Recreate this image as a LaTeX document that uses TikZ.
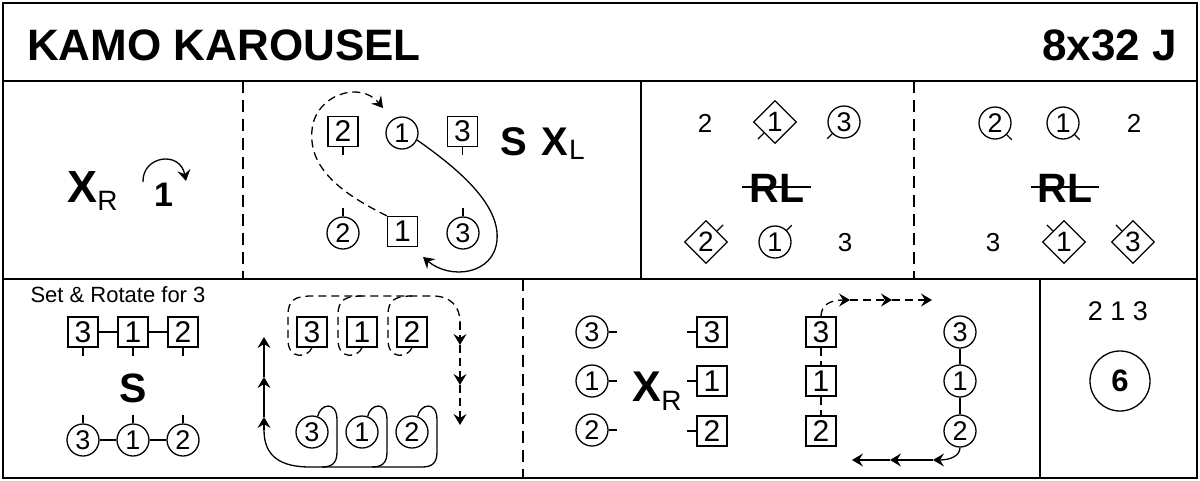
\documentclass[tikz,border=0pt]{standalone}
\usepackage{fontspec}
\setmainfont{Liberation Sans}
\usetikzlibrary{arrows.meta,shapes.geometric,calc}
\newcommand{\fsz}[1]{\fontsize{#1}{#1}\selectfont}
\begin{document}
\begin{tikzpicture}[x=1pt,y=-1pt,
  every node/.style={inner sep=0pt},
  frameline/.style={line width=2pt},
  solidsep/.style={line width=1.6pt},
  dashsep/.style={line width=1.6pt, dash pattern=on 12pt off 7pt},
  sqbox/.style={draw, line width=1.3pt, minimum size=30pt, font=\fsz{30}},
  cirnode/.style={draw, circle, line width=1.3pt, minimum size=32pt, font=\fsz{27}},
  dianode/.style={draw, diamond, aspect=1, line width=1.3pt, minimum width=43pt, minimum height=43pt, font=\fsz{28}},
  plainnum/.style={font=\fsz{26}},
  thinln/.style={line width=1.3pt},
  dashln/.style={line width=1.3pt, dash pattern=on 8pt off 5pt},
  arrw/.style={-{Stealth[length=11pt,width=13pt,inset=4pt]}},
  bigtxt/.style={font=\bfseries\fsz{41}, anchor=base},
  subtxt/.style={font=\fsz{28}, anchor=base},
  strike/.style={line width=2pt},
]
\useasboundingbox (0,0) rectangle (1200,480);
% frame
\draw[frameline] (3,3) rectangle (1197,478);
\draw[solidsep] (3,81) -- (1197,81);
\draw[solidsep] (3,279) -- (1197,279);
\draw[solidsep] (641,81) -- (641,279);
\draw[solidsep] (1040,279) -- (1040,478);
\draw[dashsep] (243,81) -- (243,279);
\draw[dashsep] (914,81) -- (914,279);
\draw[dashsep] (523,279) -- (523,478);
% title
\node[anchor=base west, font=\bfseries\fsz{44}] (title) at (27,60) {KAMO KAROUSEL};
\node[anchor=base east, font=\bfseries\fsz{44}] (code) at (1177,60) {8x32 J};
% panel 1
\node[font=\bfseries\fsz{45}, anchor=base] (xa) at (82.5,202) {X};
\node[subtxt] (xas) at (107.5,210) {R};
\node[font=\bfseries\fsz{34}, anchor=base] (one) at (163.5,206) {1};
\coordinate (rotA) at (143,182);
\coordinate (rotB) at (186,181);
\draw[thinln, arrw] (rotA) .. controls (142,156) and (180,150) .. (rotB);
% panel 2
\node[sqbox] (a2) at (343,131.5) {2};
\node[cirnode] (a1) at (402,133) {1};
\node[sqbox] (a3) at (462.5,131.5) {3};
\node[cirnode] (b2) at (343,233) {2};
\node[sqbox] (b1) at (402.5,231.5) {1};
\node[cirnode] (b3) at (463,233) {3};
\draw[thinln] (a2.south) -- ++(0,8);
\draw[thinln] (a3.south) -- ++(0,8);
\draw[thinln] (b2.north) -- ++(0,-8);
\draw[thinln] (b3.north) -- ++(0,-8);
\node[font=\bfseries\fsz{40}, anchor=base] (sx) at (513.5,155) {S};
\node[font=\bfseries\fsz{40}, anchor=base] (xb) at (555,155) {X};
\node[subtxt] (xbs) at (577,159) {L};
\coordinate (dEnd) at (383,108);
\coordinate (sEnd) at (423,257);
\draw[dashln, arrw] (b1.north west) .. controls (345,195) and (308,170) .. (312,130) .. controls (315,95) and (360,80) .. (dEnd);
\draw[thinln, arrw] (a1.-25) .. controls (460,170) and (500,205) .. (497,240) .. controls (494,275) and (450,280) .. (sEnd);
% panel 3
\node[plainnum] (p2) at (705,123) {2};
\node[dianode] (d1) at (775,122) {1};
\node[cirnode] (c3) at (844,122) {3};
\draw[thinln] ($(d1.south)!0.5!(d1.west)$) -- ++(-6,6);
\draw[thinln] (c3.south west) -- ++(-5,5);
\node[bigtxt] (rl1) at (777,202) {RL};
\draw[strike] (742,187) -- (811,187);
\node[dianode] (d2) at (706,242) {2};
\node[cirnode] (c1) at (775,242) {1};
\node[plainnum] (p3) at (845,243) {3};
\draw[thinln] ($(d2.north)!0.5!(d2.east)$) -- ++(6,-6);
\draw[thinln] (c1.north east) -- ++(5,-5);
% panel 4
\node[cirnode] (e2) at (995,123) {2};
\node[cirnode] (e1) at (1063,123) {1};
\node[plainnum] (q2) at (1134,123) {2};
\draw[thinln] (e2.south east) -- ++(5,5);
\draw[thinln] (e1.south east) -- ++(5,5);
\node[bigtxt] (rl2) at (1065,202) {RL};
\draw[strike] (1031,187) -- (1099,187);
\node[plainnum] (q3) at (993,243) {3};
\node[dianode] (f1) at (1064,242) {1};
\node[dianode] (f3) at (1133,242) {3};
\draw[thinln] ($(f1.north)!0.5!(f1.west)$) -- ++(-6,-6);
\draw[thinln] ($(f3.north)!0.5!(f3.west)$) -- ++(-6,-6);
% row 3 panel 1
\node[font=\fsz{22}] (setrot) at (118,295) {Set \& Rotate for 3};
\node[sqbox] (s3) at (83,332) {3};
\node[sqbox] (s1) at (133,332) {1};
\node[sqbox] (s2) at (183,332) {2};
\draw[thinln] (s3) -- (s1) -- (s2);
\draw[thinln] (s3.south) -- ++(0,8);
\draw[thinln] (s1.south) -- ++(0,8);
\draw[thinln] (s2.south) -- ++(0,8);
\node[bigtxt] (sb) at (133,402) {S};
\node[cirnode] (t3) at (83,440) {3};
\node[cirnode] (t1) at (133,440) {1};
\node[cirnode] (t2) at (183,440) {2};
\draw[thinln] (t3) -- (t1) -- (t2);
\draw[thinln] (t3.north) -- ++(0,-8);
\draw[thinln] (t1.north) -- ++(0,-8);
\draw[thinln] (t2.north) -- ++(0,-8);
% row 3 panel 2
\node[sqbox] (u3) at (312,332) {3};
\node[sqbox] (u1) at (362,332) {1};
\node[sqbox] (u2) at (412,332) {2};
\node[cirnode] (v3) at (312,432) {3};
\node[cirnode] (v1) at (362,432) {1};
\node[cirnode] (v2) at (412,432) {2};
\coordinate (dn0) at (460,322);
\coordinate (dn1) at (460,345);
\coordinate (dn2) at (460,385);
\coordinate (dn3) at (460,425);
\draw[dashln] (u3.south) .. controls (308,358) and (288,360) .. (288,340) -- (288,315) .. controls (288,300) and (295,296) .. (312,296) -- (433,296) .. controls (450,296) and (460,306) .. (dn0);
\draw[dashln, arrw] (dn0) -- (dn1);
\draw[dashln, arrw] (dn1) -- (dn2);
\draw[dashln, arrw] (dn2) -- (dn3);
\draw[dashln] (u1.south) .. controls (358,358) and (338,360) .. (338,340) -- (338,315) .. controls (338,300) and (345,296) .. (362,296);
\draw[dashln] (u2.south) .. controls (408,358) and (388,360) .. (388,340) -- (388,315) .. controls (388,300) and (395,296) .. (412,296);
\coordinate (up0) at (264,430);
\coordinate (up1) at (264,417);
\coordinate (up2) at (264,377);
\coordinate (up3) at (264,337);
\draw[thinln] (v3.70) .. controls (320,404) and (337,400) .. (337,420) -- (337,452) .. controls (337,463) and (332,467) .. (322,467);
\draw[thinln] (v1.70) .. controls (370,404) and (387,400) .. (387,420) -- (387,452) .. controls (387,463) and (382,467) .. (372,467);
\draw[thinln] (v2.70) .. controls (420,404) and (437,400) .. (437,420) -- (437,452) .. controls (437,463) and (432,467) .. (422,467) -- (310,467) .. controls (280,467) and (264,456) .. (up0);
\draw[thinln, arrw] (up0) -- (up1);
\draw[thinln, arrw] (up1) -- (up2);
\draw[thinln, arrw] (up2) -- (up3);
% row 3 panel 3
\node[cirnode] (w3) at (592,332) {3};
\node[cirnode] (w1) at (592,381) {1};
\node[cirnode] (w2) at (592,430) {2};
\draw[thinln] (w3.east) -- ++(8,0);
\draw[thinln] (w1.east) -- ++(8,0);
\draw[thinln] (w2.east) -- ++(8,0);
\node[font=\bfseries\fsz{43}, anchor=base] (xc) at (646.5,401) {X};
\node[subtxt] (xcs) at (671.5,410) {R};
\node[sqbox] (x3) at (712,332) {3};
\node[sqbox] (x1) at (712,381) {1};
\node[sqbox] (x2) at (712,431) {2};
\draw[thinln] (x3.west) -- ++(-9,0);
\draw[thinln] (x1.west) -- ++(-9,0);
\draw[thinln] (x2.west) -- ++(-9,0);
\node[sqbox] (y3) at (821,332) {3};
\node[sqbox] (y1) at (821,381) {1};
\node[sqbox] (y2) at (821,431) {2};
\draw[dashln] (y3) -- (y1);
\draw[dashln] (y1) -- (y2);
\node[cirnode] (z3) at (960,332) {3};
\node[cirnode] (z1) at (960,381) {1};
\node[cirnode] (z2) at (960,431) {2};
\draw[thinln] (z3) -- (z1) -- (z2);
\coordinate (rt1) at (850,300);
\coordinate (rt2) at (892,300);
\coordinate (rt3) at (932,300);
\draw[dashln, arrw] (y3.north) .. controls (821,305) and (830,300) .. (rt1);
\draw[dashln, arrw] (rt1) -- (rt2);
\draw[dashln, arrw] (rt2) -- (rt3);
\coordinate (lf1) at (933,460);
\coordinate (lf2) at (890,460);
\coordinate (lf3) at (852,460);
\draw[thinln, arrw] (z2.south) .. controls (960,456) and (950,460) .. (lf1);
\draw[thinln, arrw] (lf1) -- (lf2);
\draw[thinln, arrw] (lf2) -- (lf3);
% row 3 panel 4
\node[font=\fsz{27}] (order) at (1118,311) {2 1 3};
\node[draw, circle, line width=1.3pt, minimum size=60pt, font=\bfseries\fsz{31}] (six) at (1120,381) {6};
\end{tikzpicture}
\end{document}
